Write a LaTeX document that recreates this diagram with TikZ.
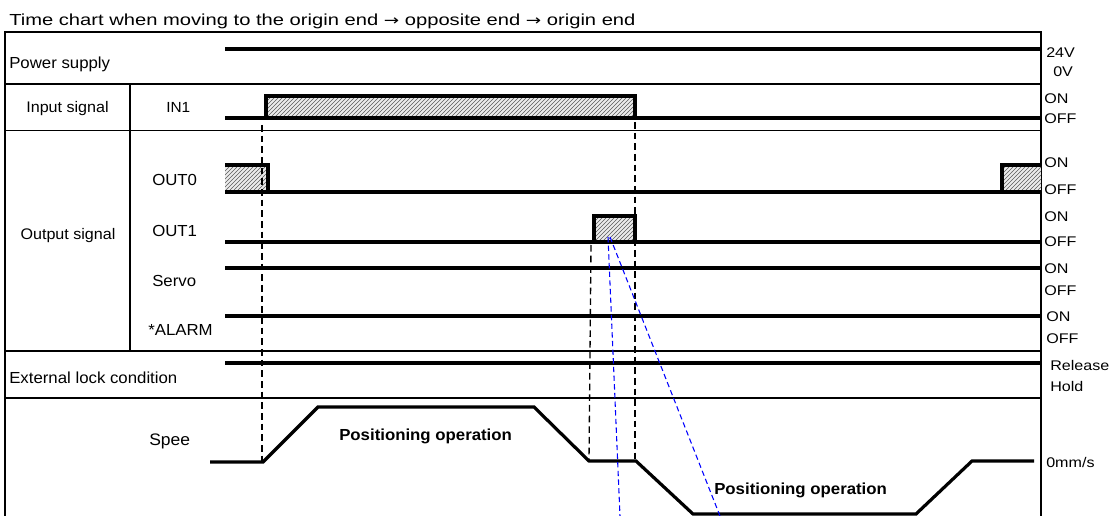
\documentclass[tikz,border=0pt]{standalone}
\usepackage{fontspec}
\setmainfont[FakeStretch=1.05]{Liberation Sans}
\newfontfamily\subfont[FakeStretch=1.26]{Liberation Sans}
\newfontfamily\rfont[FakeStretch=1.15]{Liberation Sans}
\newfontfamily\arrfont[FakeStretch=1.25]{DejaVu Sans}
\usetikzlibrary{patterns}
\definecolor{leadblue}{RGB}{0,0,255}
\definecolor{hatchgray}{RGB}{90,90,90}
\definecolor{hatchbg}{RGB}{235,235,235}
\newcommand{\arr}{{\arrfont\fontsize{11}{13}\selectfont →}}
\begin{document}
\begin{tikzpicture}[x=0.75pt,y=-0.75pt,
  tbl/.style={line width=1.1pt},
  sig/.style={line width=2.6pt},
  spd/.style={line width=2.4pt},
  guide/.style={line width=1pt, dash pattern=on 5pt off 3pt},
  lead/.style={line width=0.8pt, draw=leadblue, dash pattern=on 4pt off 2.5pt},
  hatch/.style={fill=hatchbg, postaction={pattern=north east lines, pattern color=hatchgray}},
  txt/.style={inner sep=0pt, anchor=base west, font=\fontsize{12}{14}\selectfont},
  txtc/.style={inner sep=0pt, anchor=base, font=\fontsize{11.5}{14}\selectfont},
  rtxt/.style={inner sep=0pt, anchor=base west, font=\rfont\fontsize{10.5}{12}\selectfont},
  bold/.style={font=\fontsize{12}{14}\selectfont\bfseries}]
\useasboundingbox (0,0) rectangle (1113,516);

% subtitle
\node[txt, font=\subfont\fontsize{12}{14}\selectfont] (sub) at (9,26) {Time chart when moving to the origin end \arr{} opposite end \arr{} origin end};

% table frame
\draw[tbl] (5,516) -- (5,32) -- (1041,32) -- (1041,516);
\draw[tbl] (5,84) -- (1041,84);
\draw[tbl] (5,130.5) -- (1041,130.5);
\draw[tbl] (5,351) -- (1041,351);
\draw[tbl] (5,398) -- (1041,398);
\draw[tbl] (130,84) -- (130,351);

% hatched pulses
\path[hatch] (266,96) rectangle (635,118);
\path[hatch] (225,165) rectangle (268,192);
\path[hatch] (1002,165) rectangle (1041,192);
\path[hatch] (594,216) rectangle (635,242);

% signal lines
\draw[sig] (225,49) -- (1041,49);
\draw[sig] (225,118) -- (1041,118);
\draw[sig] (266,118) -- (266,96) -- (635,96) -- (635,118);
\draw[sig] (225,192) -- (1041,192);
\draw[sig] (225,165) -- (268,165) -- (268,192);
\draw[sig] (1002,192) -- (1002,165) -- (1041,165);
\draw[sig] (225,242) -- (1041,242);
\draw[sig] (594,242) -- (594,216) -- (635,216) -- (635,242);
\draw[sig] (225,268) -- (1041,268);
\draw[sig] (225,316) -- (1041,316);
\draw[sig] (225,363) -- (1041,363);

% speed profile
\draw[spd] (210,462) -- (263,462) -- (318,407) -- (534,407) -- (589,461) -- (636,461) -- (693,514) -- (916,514) -- (972,461) -- (1034,461);

% guide lines
\draw[guide] (262,125) -- (262,462);
\draw[guide] (635,122) -- (635,461);
\draw[guide] (591,245) -- (589,461);

% leader lines
\draw[lead] (608,237) -- (620,516);
\draw[lead] (610,237) -- (720,516);

% left labels
\node[txt] (ps) at (9,68.3) {Power supply};
\node[txtc] (ins) at (67.5,112.5) {Input signal};
\node[txt, font=\fontsize{11}{13}\selectfont] (in1) at (166,112.5) {IN1};
\node[txtc] (outs) at (68,240) {Output signal};
\node[txt] (o0) at (152,186) {OUT0};
\node[txt] (o1) at (152,237) {OUT1};
\node[txt] (sv) at (152,287) {Servo};
\node[txt] (al) at (148,336) {*ALARM};
\node[txt] (ext) at (9,383) {External lock condition};
\node[txt, font=\fontsize{12.5}{14}\selectfont] (spe) at (149,445) {Spee};
\node[txt, bold] (pos1) at (339,440) {Positioning operation};
\node[txt, bold] (pos2) at (714,494) {Positioning operation};

% right labels
\node[rtxt] (v24) at (1046,58) {24V};
\node[rtxt] (v0) at (1053,77) {0V};
\node[rtxt] (in1on) at (1044,104) {ON};
\node[rtxt] (in1off) at (1044,124) {OFF};
\node[rtxt] (o0on) at (1044,168) {ON};
\node[rtxt] (o0off) at (1044,195) {OFF};
\node[rtxt] (o1on) at (1044,222) {ON};
\node[rtxt] (o1off) at (1044,247) {OFF};
\node[rtxt] (svon) at (1044,274) {ON};
\node[rtxt] (svoff) at (1044,296) {OFF};
\node[rtxt] (alon) at (1046,322) {ON};
\node[rtxt] (aloff) at (1046,344) {OFF};
\node[rtxt] (rel) at (1050,370) {Release};
\node[rtxt] (hold) at (1050,391) {Hold};
\node[rtxt] (zero) at (1046,467) {0mm/s};
\end{tikzpicture}
\end{document}
